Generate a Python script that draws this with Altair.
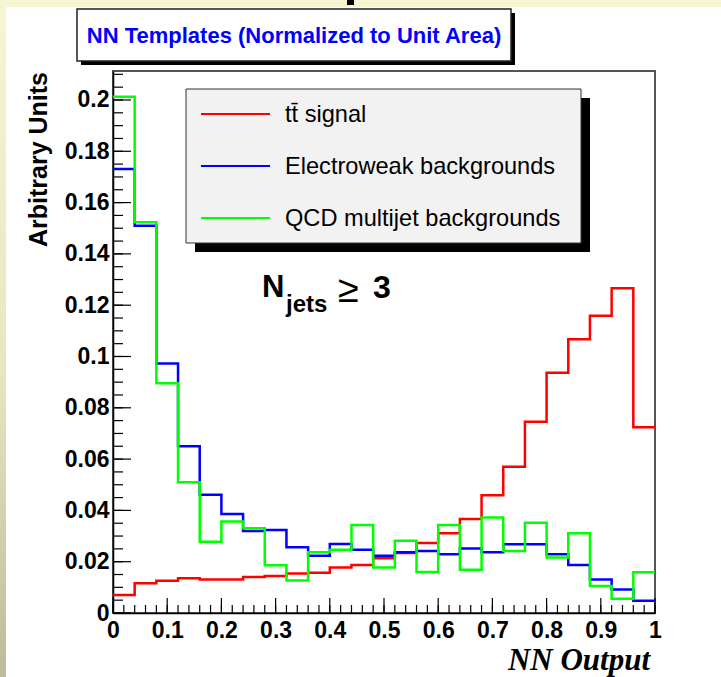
import altair as alt
import pandas as pd

# ---------------- data ----------------
n_bins = 25
x_lo, x_hi = 0.0, 1.0
series_names = ["tt\u0304 signal", "Electroweak backgrounds", "QCD multijet backgrounds"]
series_colors = ["#ff0000", "#0000ff", "#00ff00"]

signal_tt = [0.0070, 0.0116, 0.0126, 0.0135, 0.0131, 0.0131, 0.0140, 0.0144, 0.0154,
             0.0157, 0.0177, 0.0187, 0.0213, 0.0234, 0.0273, 0.0311, 0.0366, 0.0459,
             0.0570, 0.0746, 0.0937, 0.1067, 0.1159, 0.1266, 0.0724]
ewk_bkg = [0.1731, 0.1510, 0.0973, 0.0650, 0.0461, 0.0386, 0.0320, 0.0324, 0.0256,
           0.0223, 0.0269, 0.0247, 0.0223, 0.0237, 0.0242, 0.0229, 0.0251, 0.0237,
           0.0268, 0.0268, 0.0229, 0.0187, 0.0131, 0.0092, 0.0048]
qcd_bkg = [0.2013, 0.1523, 0.0896, 0.0510, 0.0278, 0.0357, 0.0330, 0.0186, 0.0127,
           0.0237, 0.0247, 0.0343, 0.0177, 0.0282, 0.0160, 0.0343, 0.0169, 0.0372,
           0.0242, 0.0352, 0.0216, 0.0311, 0.0105, 0.0056, 0.0159]

x_major = [0, 0.1, 0.2, 0.3, 0.4, 0.5, 0.6, 0.7, 0.8, 0.9, 1.0]
x_minor = [round(i * 0.02, 4) for i in range(51)]
y_major = [0, 0.02, 0.04, 0.06, 0.08, 0.1, 0.12, 0.14, 0.16, 0.18, 0.2]
y_minor = [round(i * 0.005, 4) for i in range(43)]
y_top = 0.2113

title_text = "NN Templates (Normalized to Unit Area)"
x_title = "NN Output"
y_title = "Arbitrary Units"

# ---------------- layout ----------------
W, H = 542, 542
L, T = 113, 71


def px(x):
    return x - L


def py(y):
    return y - T


FONT = "Liberation Sans"

xscale = alt.Scale(domain=[x_lo, x_hi], nice=False, zero=False)
yscale = alt.Scale(domain=[0, y_top], nice=False, zero=True)
xaxis = alt.Axis(values=x_major, format="~g", ticks=False, grid=False, title=None,
                 labelFont=FONT, labelFontSize=23, labelFontWeight="bold", labelColor="black",
                 labelPadding=6, labelOverlap=False, labelFlush=False,
                 domainColor="black", domainWidth=1.5)
yaxis = alt.Axis(values=y_major, format="~g", ticks=False, grid=False, title=None,
                 labelFont=FONT, labelFontSize=23, labelFontWeight="bold", labelColor="black",
                 labelPadding=4, labelOverlap=False, labelFlush=False,
                 domainColor="black", domainWidth=1.5)


def X(field):
    return alt.X(field, type="quantitative", scale=xscale, axis=xaxis)


def Y(field):
    return alt.Y(field, type="quantitative", scale=yscale, axis=yaxis)


one = pd.DataFrame({"k": [0]})
bw = (x_hi - x_lo) / n_bins

layers = []

# page decorations (beige strips, cut-off glyph)
layers.append(alt.Chart(one).mark_rect(color="#f6f6d2").encode(
    x=alt.value(px(0)), x2=alt.value(px(721)), y=alt.value(py(0)), y2=alt.value(py(7))))
layers.append(alt.Chart(one).mark_rect(
    color=alt.LinearGradient(gradient="linear",
                             stops=[alt.GradientStop(color="#f6f6d4", offset=0),
                                    alt.GradientStop(color="#e6e6c0", offset=0.55),
                                    alt.GradientStop(color="#bcbc9c", offset=1)],
                             x1=0, x2=0, y1=0, y2=1)).encode(
    x=alt.value(px(0)), x2=alt.value(px(6)), y=alt.value(py(0)), y2=alt.value(py(677))))
layers.append(alt.Chart(one).mark_rect(color="black").encode(
    x=alt.value(px(347)), x2=alt.value(px(354)), y=alt.value(py(0)), y2=alt.value(py(5))))

# title box
layers.append(alt.Chart(one).mark_rect(color="black").encode(
    x=alt.value(px(81)), x2=alt.value(px(515)), y=alt.value(py(13)), y2=alt.value(py(65))))
layers.append(alt.Chart(one).mark_rect(fill="white", stroke="#222222", strokeWidth=1.5).encode(
    x=alt.value(px(77)), x2=alt.value(px(511)), y=alt.value(py(9)), y2=alt.value(py(61))))
layers.append(alt.Chart(one).mark_text(text=title_text, font=FONT, fontSize=22, fontWeight="bold",
                                       color="#0000ff", align="center", baseline="alphabetic").encode(
    x=alt.value(px(294)), y=alt.value(py(43))))

# tick marks (inward)
dfx_major = pd.DataFrame({"v": x_major})
dfx_minor = pd.DataFrame({"v": x_minor})
dfy_major = pd.DataFrame({"v": y_major})
dfy_minor = pd.DataFrame({"v": y_minor})
layers.append(alt.Chart(dfx_minor).mark_rule(color="black", strokeWidth=1.2).encode(
    x=X("v"), y=alt.value(H), y2=alt.value(H - 8)))
layers.append(alt.Chart(dfx_major).mark_rule(color="black", strokeWidth=1.2).encode(
    x=X("v"), y=alt.value(H), y2=alt.value(H - 15)))
layers.append(alt.Chart(dfy_minor).mark_rule(color="black", strokeWidth=1.2).encode(
    y=Y("v"), x=alt.value(0), x2=alt.value(10)))
layers.append(alt.Chart(dfy_major).mark_rule(color="black", strokeWidth=1.2).encode(
    y=Y("v"), x=alt.value(0), x2=alt.value(18)))

# histograms
for name, vals in zip(series_names, [signal_tt, ewk_bkg, qcd_bkg]):
    rows = [{"series": name, "x": x_lo + i * bw, "y": v, "o": i} for i, v in enumerate(vals)]
    rows.append({"series": name, "x": x_hi, "y": vals[-1], "o": len(vals)})
    df = pd.DataFrame(rows)
    layers.append(alt.Chart(df).mark_line(interpolate="step-after", strokeWidth=2.5).encode(
        x=X("x"), y=Y("y"), order=alt.Order("o:Q"),
        color=alt.Color("series:N", scale=alt.Scale(domain=series_names, range=series_colors),
                        legend=None)))

# legend box
layers.append(alt.Chart(one).mark_rect(color="black").encode(
    x=alt.value(px(195)), x2=alt.value(px(590)), y=alt.value(py(98)), y2=alt.value(py(252))))
layers.append(alt.Chart(one).mark_rect(fill="#f2f2f2", stroke="#333333", strokeWidth=1).encode(
    x=alt.value(px(186)), x2=alt.value(px(581)), y=alt.value(py(89)), y2=alt.value(py(243))))
legend_y = [114, 166, 218]
for name, col, ly in zip(series_names, series_colors, legend_y):
    layers.append(alt.Chart(one).mark_rule(color=col, strokeWidth=2).encode(
        x=alt.value(px(201)), x2=alt.value(px(270)), y=alt.value(py(ly))))
    layers.append(alt.Chart(one).mark_text(text=name, font=FONT, fontSize=23.6, color="black",
                                           align="left", baseline="alphabetic").encode(
        x=alt.value(px(285)), y=alt.value(py(ly + 8))))

# N_jets >= 3 annotation
layers.append(alt.Chart(one).mark_text(text="N", font=FONT, fontSize=31, fontWeight="bold",
                                       color="black", align="left", baseline="alphabetic").encode(
    x=alt.value(px(262)), y=alt.value(py(297))))
layers.append(alt.Chart(one).mark_text(text="jets", font=FONT, fontSize=24, fontWeight="bold",
                                       color="black", align="left", baseline="alphabetic").encode(
    x=alt.value(px(286)), y=alt.value(py(312))))
layers.append(alt.Chart(one).mark_text(text="\u2265", font=FONT, fontSize=38,
                                       color="black", align="left", baseline="alphabetic").encode(
    x=alt.value(px(338)), y=alt.value(py(302))))
layers.append(alt.Chart(one).mark_text(text="3", font=FONT, fontSize=32, fontWeight="bold",
                                       color="black", align="left", baseline="alphabetic").encode(
    x=alt.value(px(373)), y=alt.value(py(298))))

# axis titles
layers.append(alt.Chart(one).mark_text(text=x_title, font="Liberation Serif", fontSize=31,
                                       fontWeight="bold", fontStyle="italic", color="black",
                                       align="right", baseline="alphabetic").encode(
    x=alt.value(px(650)), y=alt.value(py(670))))
layers.append(alt.Chart(one).mark_text(text=y_title, font=FONT, fontSize=25, fontWeight="bold",
                                       color="black", angle=270, align="right",
                                       baseline="alphabetic").encode(
    x=alt.value(px(47)), y=alt.value(py(72))))

chart = alt.layer(*layers).properties(
    width=W, height=H,
    padding={"left": L, "top": T, "right": 721 - L - W, "bottom": 677 - T - H},
    autosize=alt.AutoSizeParams(type="none"),
    background="white",
).configure_view(stroke="#555555", strokeWidth=2)

chart.save("out.html", embed_options={"renderer": "svg", "actions": False})
